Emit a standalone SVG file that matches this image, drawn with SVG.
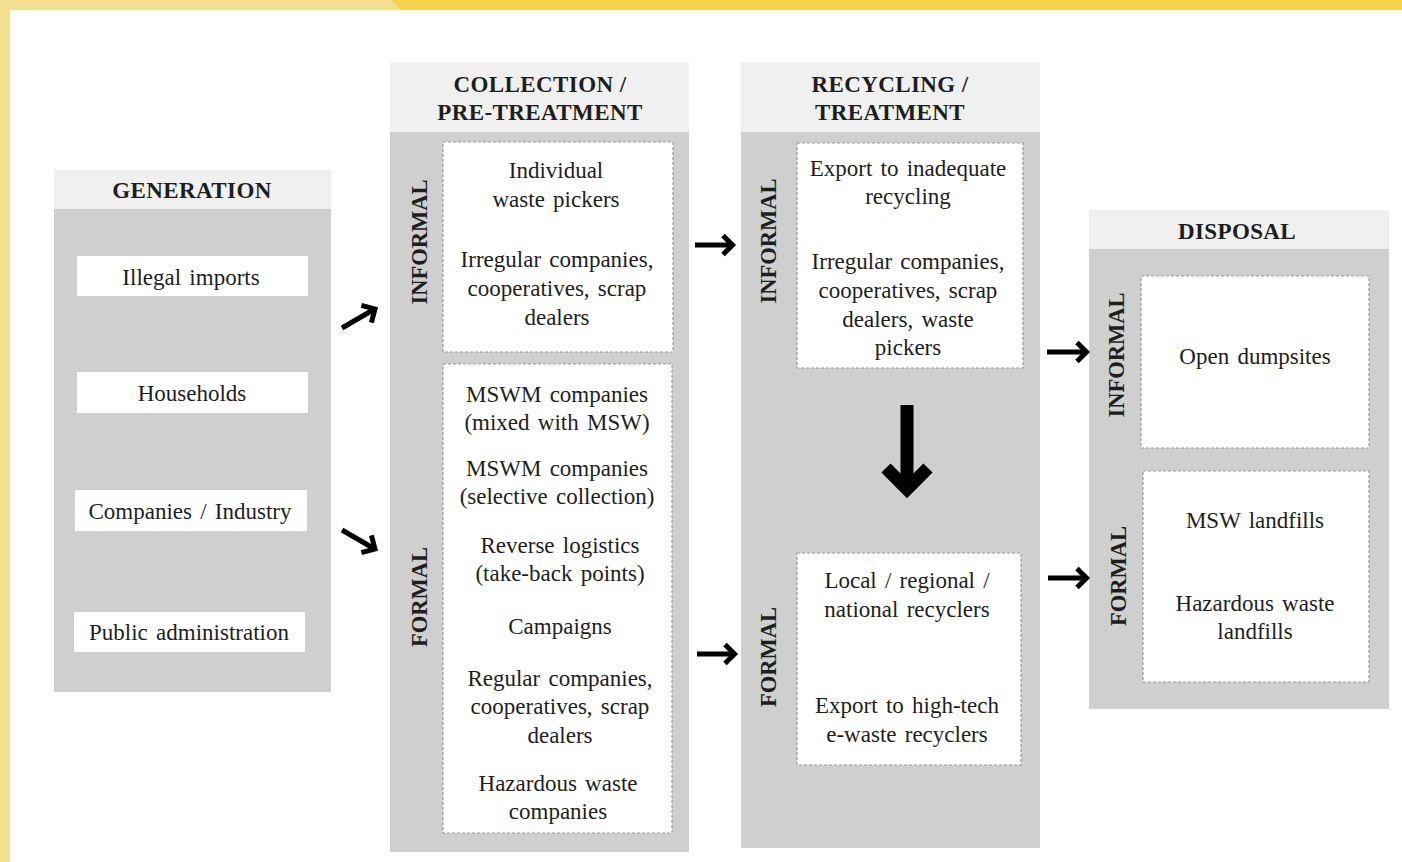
<svg xmlns="http://www.w3.org/2000/svg" width="1402" height="862" viewBox="0 0 1402 862" font-family="'Liberation Serif', 'DejaVu Serif', 'Times New Roman', serif">
<style>
.band{fill:#CFCFCF}
.hdr{fill:#F0F0F0}
.wb{fill:#FFFFFF}
.db{fill:#FFFFFF;stroke:#9A9A9A;stroke-width:1.2;stroke-dasharray:3 2}
text{font-family:'Liberation Serif','DejaVu Serif','Times New Roman',serif;fill:#1E1E1E;text-anchor:middle}
.t{font-size:23px;word-spacing:2.5px}
.h{font-size:23px;font-weight:bold;letter-spacing:0.4px}
.v{font-size:22.5px;font-weight:bold}
.arr{fill:none;stroke:#000;stroke-width:5;stroke-linejoin:miter;stroke-miterlimit:10}
.big{fill:none;stroke:#000;stroke-width:13;stroke-linejoin:miter;stroke-miterlimit:10}
</style>
<rect x="0" y="0" width="1402" height="862" fill="#FFFFFF"/>
<rect x="0" y="0" width="1402" height="10" fill="#F4DE8F"/>
<rect x="0" y="0" width="10" height="862" fill="#F4DE8F"/>
<polygon points="392,0 1402,0 1402,10 400,10" fill="#F5D24F"/>

<g id="generation">
<rect class="hdr" x="54" y="170" width="277" height="39"/>
<rect class="band" x="54" y="209" width="277" height="483"/>
<text class="h" x="192" y="198">GENERATION</text>
<rect class="wb" x="77" y="256" width="231" height="40"/>
<text class="t" x="191" y="285">Illegal imports</text>
<rect class="wb" x="77" y="372" width="231" height="41"/>
<text class="t" x="192" y="401">Households</text>
<rect class="wb" x="75" y="490" width="232" height="41"/>
<text class="t" x="190" y="519">Companies / Industry</text>
<rect class="wb" x="74" y="612" width="231" height="40"/>
<text class="t" x="189" y="640">Public administration</text>
</g>

<g id="collection">
<rect class="hdr" x="390" y="62" width="299" height="70"/>
<rect class="band" x="390" y="132" width="299" height="720"/>
<text class="h" x="540" y="92">COLLECTION /</text>
<text class="h" x="540" y="120">PRE-TREATMENT</text>
<text class="v" transform="translate(427,242) rotate(-90)">INFORMAL</text>
<text class="v" transform="translate(427,597) rotate(-90)">FORMAL</text>
<rect class="db" x="443" y="142" width="230" height="210"/>
<text class="t" x="556" y="178">Individual</text>
<text class="t" x="556" y="207">waste pickers</text>
<text class="t" x="557" y="267">Irregular companies,</text>
<text class="t" x="557" y="296">cooperatives, scrap</text>
<text class="t" x="557" y="325">dealers</text>
<rect class="db" x="443" y="364" width="229" height="469"/>
<text class="t" x="557" y="402">MSWM companies</text>
<text class="t" x="557" y="430">(mixed with MSW)</text>
<text class="t" x="557" y="476">MSWM companies</text>
<text class="t" x="557" y="504">(selective collection)</text>
<text class="t" x="560" y="553">Reverse logistics</text>
<text class="t" x="560" y="581">(take-back points)</text>
<text class="t" x="560" y="634">Campaigns</text>
<text class="t" x="560" y="686">Regular companies,</text>
<text class="t" x="560" y="714">cooperatives, scrap</text>
<text class="t" x="560" y="743">dealers</text>
<text class="t" x="558" y="791">Hazardous waste</text>
<text class="t" x="558" y="819">companies</text>
</g>

<g id="recycling">
<rect class="hdr" x="741" y="62" width="299" height="70"/>
<rect class="band" x="741" y="132" width="299" height="716"/>
<text class="h" x="890" y="92">RECYCLING /</text>
<text class="h" x="890" y="120">TREATMENT</text>
<text class="v" transform="translate(776,241) rotate(-90)">INFORMAL</text>
<text class="v" transform="translate(776,657) rotate(-90)">FORMAL</text>
<rect class="db" x="797" y="143" width="226" height="225"/>
<text class="t" x="908" y="176">Export to inadequate</text>
<text class="t" x="908" y="204">recycling</text>
<text class="t" x="908" y="269">Irregular companies,</text>
<text class="t" x="908" y="298">cooperatives, scrap</text>
<text class="t" x="908" y="327">dealers, waste</text>
<text class="t" x="908" y="355">pickers</text>
<rect class="db" x="797" y="553" width="224" height="212"/>
<text class="t" x="907" y="588">Local / regional /</text>
<text class="t" x="907" y="617">national recyclers</text>
<text class="t" x="907" y="713">Export to high-tech</text>
<text class="t" x="907" y="742">e-waste recyclers</text>
</g>

<g id="disposal">
<rect class="hdr" x="1089" y="210" width="300" height="39"/>
<rect class="band" x="1089" y="249" width="300" height="460"/>
<text class="h" x="1237" y="239">DISPOSAL</text>
<text class="v" transform="translate(1124,355) rotate(-90)">INFORMAL</text>
<text class="v" transform="translate(1126,576) rotate(-90)">FORMAL</text>
<rect class="db" x="1141" y="276" width="228" height="172"/>
<text class="t" x="1255" y="364">Open dumpsites</text>
<rect class="db" x="1143" y="471" width="226" height="211"/>
<text class="t" x="1255" y="528">MSW landfills</text>
<text class="t" x="1255" y="611">Hazardous waste</text>
<text class="t" x="1255" y="639">landfills</text>
</g>

<g id="connectors">
<path class="arr" d="M342,328 L373,310"/>
<polyline class="arr" points="361.4,305.4 375,309 371.4,322.7"/>
<path class="arr" d="M342,530 L373,548"/>
<polyline class="arr" points="371.4,535.4 375,549 361.4,552.6"/>
<path class="arr" d="M695,245 L731,245"/>
<polyline class="arr" points="723,235.5 732.5,245 723,254.5"/>
<path class="arr" d="M697,654 L734,654"/>
<polyline class="arr" points="725,644.5 734.5,654 725,663.5"/>
<path class="arr" d="M1047,352 L1085,352"/>
<polyline class="arr" points="1077,342.5 1086.5,352 1077,361.5"/>
<path class="arr" d="M1048,578 L1085,578"/>
<polyline class="arr" points="1077,568.5 1086.5,578 1077,587.5"/>
<path class="big" d="M907,405 L907,486"/>
<polyline class="big" points="886,468 907,489 928,468"/>
</g>
</svg>
